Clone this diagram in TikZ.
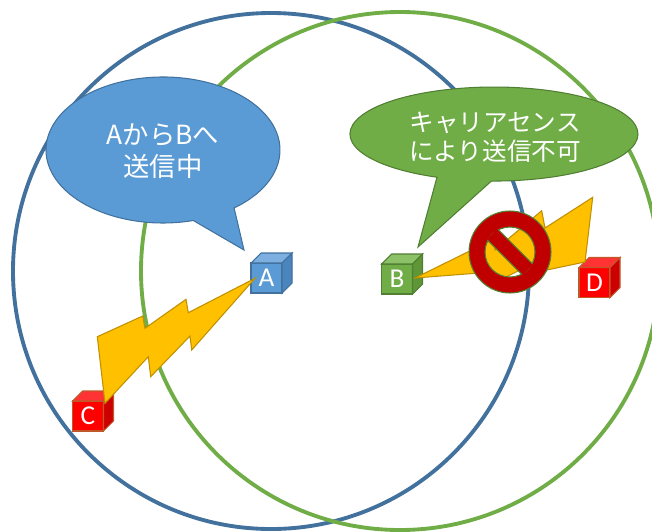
\documentclass[tikz,border=0pt]{standalone}
\usepackage{fontspec}
\setmainfont{Carlito}
\newfontfamily\jpfont{Noto Sans CJK JP}

\definecolor{bluering}{HTML}{41719C}
\definecolor{greenring}{HTML}{70AD47}
\definecolor{bluefront}{HTML}{5B9BD5}
\definecolor{bluetop}{HTML}{7DAFE0}
\definecolor{blueside}{HTML}{4A85BD}
\definecolor{blueline}{HTML}{41719C}
\definecolor{greenfront}{HTML}{70AD47}
\definecolor{greentop}{HTML}{8CC168}
\definecolor{greenside}{HTML}{5E9638}
\definecolor{greenline}{HTML}{507E32}
\definecolor{redfront}{HTML}{FF0000}
\definecolor{redtop}{HTML}{FF3333}
\definecolor{redside}{HTML}{CC0000}
\definecolor{redline}{HTML}{C0582A}
\definecolor{boltfill}{HTML}{FFC000}
\definecolor{boltline}{HTML}{BF9000}
\definecolor{signfill}{HTML}{C00000}
\definecolor{signline}{HTML}{548235}

\tikzset{
  cubefront/.style={draw, line width=0.6pt, minimum width=0.62cm, minimum height=0.6cm,
    inner sep=0pt, outer sep=0pt, text=white, font=\fontsize{15.5}{15.5}\selectfont},
  bolt/.style={fill=boltfill, draw=boltline, line width=0.6pt},
  bubble/.style={line width=0.6pt},
  saytext/.style={text=white, align=center, font=\jpfont\fontsize{15}{18}\selectfont},
}

% station box: name, position, colour set, label
\newcommand{\netcube}[4]{%
  \node[cubefront, fill=#3front, draw=#3line] (#1) at (#2) {#4};
  \filldraw[fill=#3top, draw=#3line, line width=0.6pt] (#1.north west) -- ++(10,-10)
    -- ([shift={(10,-10)}]#1.north east) -- (#1.north east) -- cycle;
  \filldraw[fill=#3side, draw=#3line, line width=0.6pt] (#1.north east) -- ++(10,-10)
    -- ([shift={(10,-10)}]#1.south east) -- (#1.south east) -- cycle;
}

\begin{document}
\begin{tikzpicture}[x=0.02cm, y=-0.02cm]
\useasboundingbox (0,0) rectangle (652,531);

% ranges of A and B
\draw[bluering, line width=2.2pt] (271,271) circle (258);
\draw[greenring, line width=2.2pt] (400,271) circle (259);

% speech bubbles
\filldraw[fill=bluefront, draw=blueline, bubble] (193.3,220.5)
  arc[start angle=75, end angle=412.6, x radius=117, y radius=73] -- (244,250) -- cycle;
\node[saytext] (sendmsg) at (163,151) {AからBへ\\送信中};

\filldraw[fill=greenfront, draw=greenline, bubble] (437,177.2)
  arc[start angle=113.3, end angle=451, x radius=144, y radius=47] -- (418,247) -- cycle;
\node[saytext, font=\jpfont\fontsize{14}{16.5}\selectfont] (busymsg) at (495,137) {キャリアセンス\\により送信不可};

% stations
\netcube{A}{266.5,278}{blue}{A}
\netcube{B}{397,279}{green}{B}
\netcube{C}{88,416}{red}{C}
\netcube{D}{594.5,282.5}{red}{D}

% A -> C interference
\filldraw[bolt] (255,278.3) -- (188.3,312.7) -- (186,299.3) -- (145,328.3) -- (142.7,316)
  -- (97.3,336.7) -- (105,403.3) -- (148.3,356.7) -- (150.7,376.7) -- (190,336)
  -- (191.7,350) -- cycle;

% B -> D (blocked)
\filldraw[bolt] (415,278) -- (494,239) -- (495,250) -- (541.7,210.7) -- (545,228)
  -- (592.7,197.3) -- (585,262) -- (546.7,270) -- (544,258) -- (494,283)
  -- (492,272) -- cycle;

% no-entry sign
\filldraw[fill=signfill, draw=signline, line width=0.6pt, even odd rule]
  (510,252) circle (41) (510,252) circle (25);
\begin{scope}
  \clip (510,252) circle (25.6);
  \filldraw[fill=signfill, draw=signline, line width=0.6pt] (523.1,275.7) -- (533.7,265.1)
    -- (496.9,228.3) -- (486.3,238.9) -- cycle;
\end{scope}
\end{tikzpicture}
\end{document}
